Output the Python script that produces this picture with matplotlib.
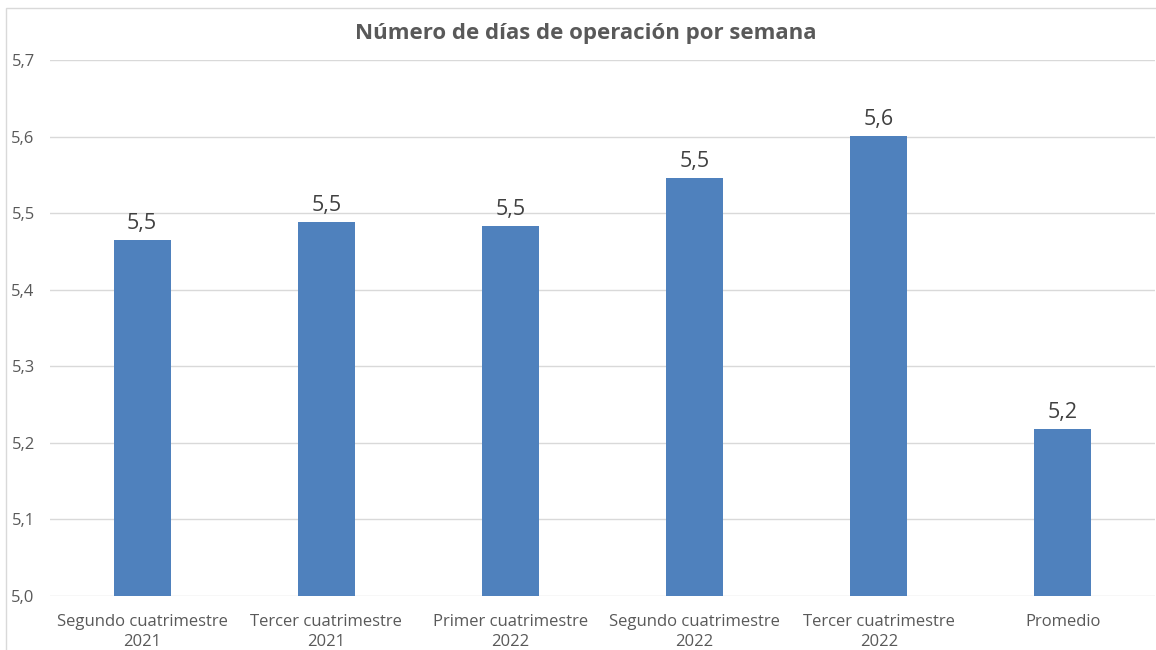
import matplotlib
matplotlib.use("Agg")
import matplotlib.pyplot as plt
from matplotlib.patches import Rectangle

categories = ["Segundo cuatrimestre\n2021", "Tercer cuatrimestre\n2021",
              "Primer cuatrimestre\n2022", "Segundo cuatrimestre\n2022",
              "Tercer cuatrimestre\n2022", "Promedio"]
values = [5.465, 5.488, 5.483, 5.546, 5.601, 5.218]
yticks = [5.0, 5.1, 5.2, 5.3, 5.4, 5.5, 5.6, 5.7]

plt.rcParams["font.family"] = ["Open Sans", "DejaVu Sans"]

fig = plt.figure(figsize=(11.56, 6.5), dpi=100)
ax = fig.add_axes([50 / 1156, 1 - 596 / 650, 1105 / 1156, 536 / 650])

# chart-area border like the Excel frame
fig.patches.append(Rectangle((6 / 1156, -0.1), 1.2, 1 - 8 / 650 + 0.1,
                             transform=fig.transFigure, fill=False,
                             edgecolor="#d9d9d9", linewidth=1))

x = range(len(categories))
bars = ax.bar(x, values, width=0.31, color="#4f81bd", zorder=3)
for b, v in zip(bars, values):
    ax.text(b.get_x() + b.get_width() / 2, v + 0.008, f"{v:.1f}".replace(".", ","),
            ha="center", va="bottom", fontsize=15.5, color="#404040")

ax.set_xlim(-0.5, len(categories) - 0.5)
ax.set_ylim(5.0, 5.7)
ax.set_yticks(yticks)
ax.set_yticklabels([f"{t:.1f}".replace(".", ",") for t in yticks])
ax.set_xticks(list(x))
ax.set_xticklabels(categories, linespacing=1.35)
ax.tick_params(axis="both", length=0, labelsize=12, labelcolor="#595959")
ax.tick_params(axis="y", pad=11)
ax.tick_params(axis="x", pad=13)
ax.grid(axis="y", color="#d9d9d9", linewidth=1, zorder=0)
for s in ax.spines.values():
    s.set_visible(False)

fig.text(586 / 1156, 1 - 33 / 650, "Número de días de operación por semana",
         ha="center", va="center", fontsize=16, fontweight="bold", color="#595959")

fig.savefig("out.png", dpi=100)
